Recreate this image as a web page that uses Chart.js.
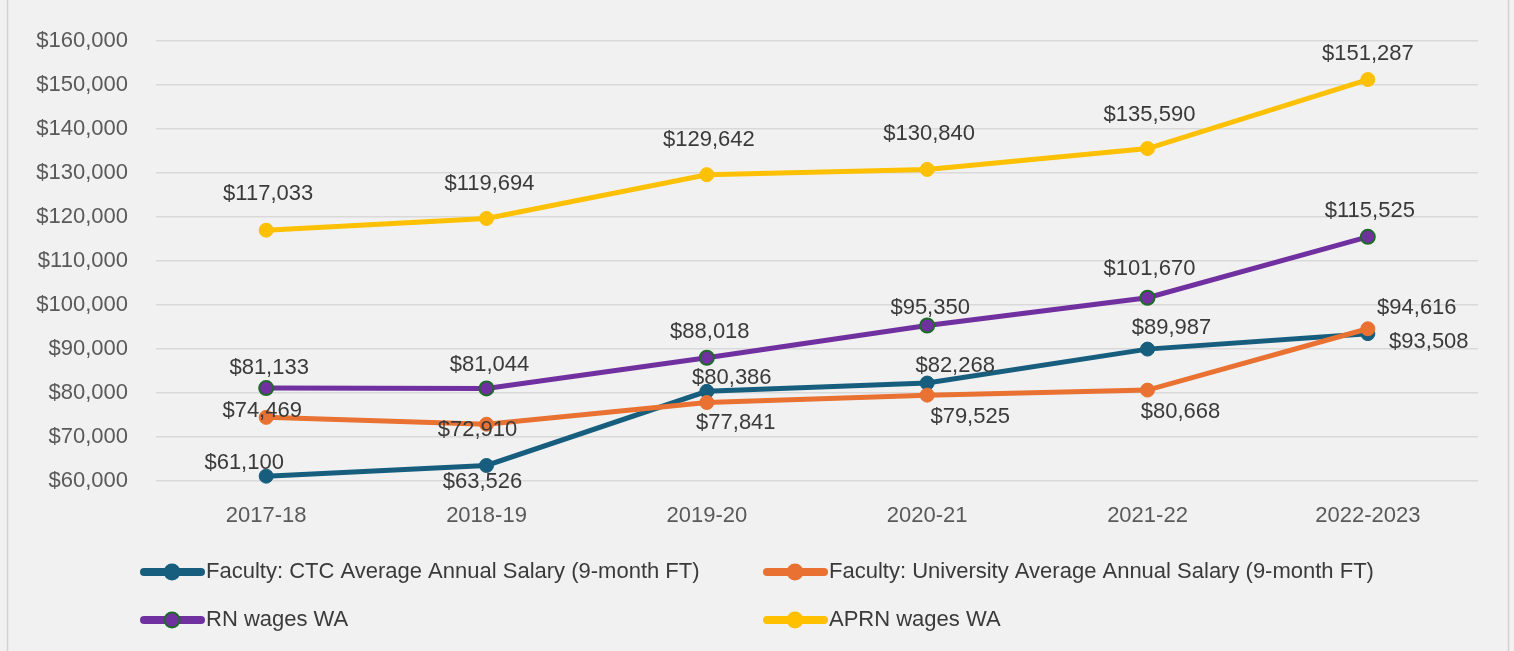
<!DOCTYPE html>
<html>
<head>
<meta charset="utf-8">
<script src="https://cdn.jsdelivr.net/npm/chart.js@4.4.1/dist/chart.umd.min.js"></script>
<style>
  html, body { margin: 0; padding: 0; background: #f1f1f1; overflow: hidden; }
  #wrap { width: 1514px; height: 651px; }
</style>
</head>
<body>
<div id="wrap"><canvas id="c" width="1514" height="651"></canvas></div>
<script>
// ---- data ----
const categories = ['2017-18', '2018-19', '2019-20', '2020-21', '2021-22', '2022-2023'];
const seriesNames = [
  'Faculty: CTC Average Annual Salary (9-month FT)',
  'Faculty: University Average Annual Salary (9-month FT)',
  'RN wages WA',
  'APRN wages WA'
];
const ctcSalary  = [61100, 63526, 80386, 82268, 89987, 93508];
const univSalary = [74469, 72910, 77841, 79525, 80668, 94616];
const rnWages    = [81133, 81044, 88018, 95350, 101670, 115525];
const aprnWages  = [117033, 119694, 129642, 130840, 135590, 151287];
const yMin = 60000, yMax = 160000, yStep = 10000;

// ---- styling (label offsets in px relative to each point) ----
const colors = ['#175e7e', '#e97132', '#7030a0', '#ffc000'];
const pointBorders = ['#175e7e', '#e97132', '#1e6b2a', '#ffc000'];
const labelOffsets = [
  [[-22, -13], [-4, 16], [25, -13], [28, -17], [24, -21], [61, 8]],
  [[-4, -6], [-9, 6], [29, 20], [43, 22], [33, 22], [49, -21]],
  [[3, -20], [3, -24], [3, -26], [3, -18], [2, -29], [2, -26]],
  [[2, -36], [3, -35], [2, -35], [2, -36], [2, -34], [0, -26]]
];

const fmt = v => '$' + v.toLocaleString('en-US');
const FONT = '"Liberation Sans", Arial, sans-serif';

const bgPlugin = {
  id: 'bg',
  beforeDraw(chart) {
    const ctx = chart.ctx;
    ctx.save();
    ctx.fillStyle = '#f1f1f1';
    ctx.fillRect(0, 0, chart.width, chart.height);
    ctx.strokeStyle = '#d2d2d2';
    ctx.lineWidth = 1.5;
    ctx.beginPath();
    ctx.moveTo(7.5, 0); ctx.lineTo(7.5, chart.height);
    ctx.moveTo(1508.5, 0); ctx.lineTo(1508.5, chart.height);
    ctx.stroke();
    ctx.restore();
  }
};

const labelPlugin = {
  id: 'pointLabels',
  afterDatasetsDraw(chart) {
    const ctx = chart.ctx;
    ctx.save();
    ctx.font = '22px ' + FONT;
    ctx.fillStyle = '#3a3a3a';
    ctx.textAlign = 'center';
    ctx.textBaseline = 'middle';
    chart.data.datasets.forEach((ds, i) => {
      const meta = chart.getDatasetMeta(i);
      meta.data.forEach((pt, j) => {
        const off = labelOffsets[i][j];
        ctx.fillText(fmt(ds.data[j]), pt.x + off[0], pt.y + off[1]);
      });
    });
    ctx.restore();
  }
};

const legendPlugin = {
  id: 'customLegend',
  afterDraw(chart) {
    const ctx = chart.ctx;
    const cols = [141, 764];
    const rows = [572, 620];
    ctx.save();
    ctx.font = '22px ' + FONT;
    ctx.textBaseline = 'middle';
    ctx.textAlign = 'left';
    chart.data.datasets.forEach((ds, i) => {
      const x = cols[i % 2], y = rows[Math.floor(i / 2)];
      ctx.strokeStyle = ds.borderColor;
      ctx.lineWidth = 8;
      ctx.lineCap = 'round';
      ctx.beginPath();
      ctx.moveTo(x + 3, y); ctx.lineTo(x + 60, y);
      ctx.stroke();
      ctx.beginPath();
      ctx.arc(x + 31, y, 7.5, 0, Math.PI * 2);
      ctx.fillStyle = ds.pointBackgroundColor;
      ctx.fill();
      ctx.lineWidth = 2;
      ctx.strokeStyle = ds.pointBorderColor;
      ctx.stroke();
      ctx.fillStyle = '#3a3a3a';
      ctx.fillText(ds.label, x + 65, y);
    });
    ctx.restore();
  }
};

const seriesData = [ctcSalary, univSalary, rnWages, aprnWages];
const datasets = seriesData.map((d, i) => ({
  label: seriesNames[i],
  data: d,
  borderColor: colors[i],
  backgroundColor: colors[i],
  borderWidth: 5,
  pointRadius: 7,
  pointBackgroundColor: colors[i],
  pointBorderColor: pointBorders[i],
  pointBorderWidth: i === 2 ? 2 : 1,
  tension: 0,
  clip: false,
  order: 4 - i
}));

new Chart(document.getElementById('c'), {
  type: 'line',
  data: { labels: categories, datasets },
  plugins: [bgPlugin, labelPlugin, legendPlugin],
  options: {
    responsive: false,
    devicePixelRatio: 1,
    animation: false,
    layout: { padding: { left: 0, right: 36, top: 38, bottom: 0 } },
    plugins: { legend: { display: false }, tooltip: { enabled: false }, title: { display: false } },
    scales: {
      y: {
        min: yMin, max: yMax,
        ticks: {
          stepSize: yStep,
          callback: v => fmt(v),
          font: { size: 22, family: FONT },
          color: '#595959',
          padding: 28
        },
        grid: { color: '#d9d9d9', lineWidth: 1.5, drawTicks: false },
        border: { display: false },
        afterFit: s => { s.width = 156; }
      },
      x: {
        offset: true,
        ticks: { font: { size: 22, family: FONT }, color: '#595959', padding: 22, maxRotation: 0 },
        grid: { display: false, drawTicks: false },
        border: { display: false },
        afterFit: s => { s.height = 170; }
      }
    }
  }
});
</script>
</body>
</html>
